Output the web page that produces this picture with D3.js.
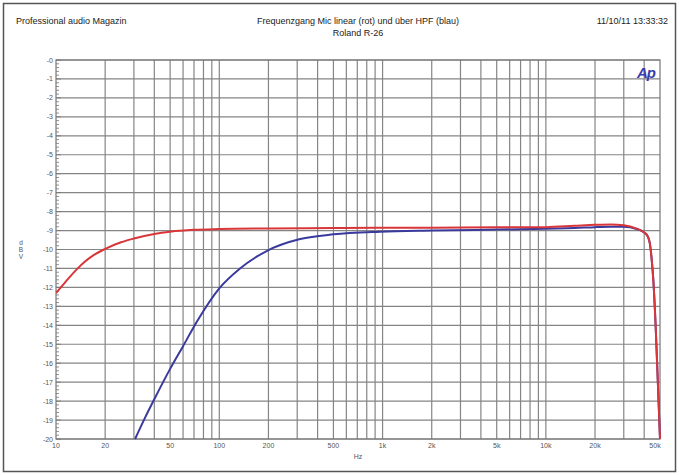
<!DOCTYPE html>
<html>
<head>
<meta charset="utf-8">
<script src="https://cdn.jsdelivr.net/npm/d3@7.9.0/dist/d3.min.js"></script>
<style>
  body { margin: 0; background: #fff; }
  svg { display: block; font-family: Arial, "Liberation Sans", sans-serif; }
</style>
</head>
<body>
<svg id="chart" width="679" height="475"></svg>
<script>
// Frequency response, linear (red) and via HPF (blue)
const freqLinear = [10, 11, 12, 13.4, 15, 17, 20, 25, 30, 40, 50, 70, 100, 200, 500, 1000, 2000, 5000, 10000, 15000, 20000, 25000, 30000, 36000, 40000, 42000, 43300, 44500, 45500, 47000, 48500, 50000];
const dbLinear   = [-12.3, -11.88, -11.5, -11.05, -10.65, -10.3, -9.97, -9.62, -9.42, -9.18, -9.06, -8.96, -8.92, -8.89, -8.87, -8.85, -8.85, -8.83, -8.82, -8.75, -8.7, -8.68, -8.72, -8.9, -9.1, -9.3, -9.66, -10.55, -11.6, -14.0, -17.0, -20.0];

const freqHpf = [30.5, 35, 40, 50, 60, 73, 100, 134, 195, 313, 500, 967, 2030, 5000, 10000, 15000, 20000, 25000, 30000, 36000, 40000, 42000, 43300, 44500, 45500, 47000, 48500, 50000];
const dbHpf   = [-20.0, -18.9, -17.9, -16.3, -15.1, -13.8, -12.05, -11.0, -10.08, -9.45, -9.2, -9.06, -9.0, -8.95, -8.9, -8.87, -8.82, -8.8, -8.8, -8.92, -9.1, -9.3, -9.66, -10.55, -11.6, -14.0, -17.0, -20.0];

const yTicks = d3.range(0, -21, -1);
const xLabelTicks = [10, 20, 50, 100, 200, 500, 1000, 2000, 5000, 10000, 20000, 50000];
const xLabels = ['10', '20', '50', '100', '200', '500', '1k', '2k', '5k', '10k', '20k', '50k'];
const yUnit = ['d', 'B', 'V'];

const svg = d3.select('#chart');
const W = 679, H = 475;
const mLeft = 56, mRight = 660, mTop = 60, mBottom = 439;

const x = d3.scaleLog().domain([10, 50000]).range([mLeft, mRight]);
const y = d3.scaleLinear().domain([0, -20]).range([mTop, mBottom]);

// outer frame
svg.append('rect')
  .attr('x', 3.5).attr('y', 3.5)
  .attr('width', W - 7).attr('height', H - 7)
  .attr('fill', '#fff').attr('stroke', '#555').attr('stroke-width', 1.5);

// header texts
svg.append('text').attr('x', 16).attr('y', 24)
  .attr('font-size', 9).attr('fill', '#222')
  .text('Professional audio Magazin');
svg.append('text').attr('x', 358).attr('y', 24)
  .attr('font-size', 9).attr('fill', '#222').attr('text-anchor', 'middle')
  .text('Frequenzgang Mic linear (rot) und über HPF (blau)');
svg.append('text').attr('x', 358).attr('y', 36)
  .attr('font-size', 9).attr('fill', '#222').attr('text-anchor', 'middle')
  .text('Roland R-26');
svg.append('text').attr('x', 668).attr('y', 24)
  .attr('font-size', 9).attr('fill', '#222').attr('text-anchor', 'end')
  .text('11/10/11 13:33:32');

// grid: vertical lines at 1..9 per decade
const gridFreqs = [];
for (let dec = 10; dec <= 10000; dec *= 10) {
  for (let m = 1; m <= 9; m++) {
    const f = dec * m;
    if (f > 10 && f < 50000) gridFreqs.push(f);
  }
}
const grid = svg.append('g').attr('stroke', '#858585').attr('stroke-width', 1.2);
grid.selectAll('line.v').data(gridFreqs).join('line')
  .attr('class', 'v')
  .attr('x1', d => x(d)).attr('x2', d => x(d))
  .attr('y1', mTop).attr('y2', mBottom);
grid.selectAll('line.h').data(yTicks).join('line')
  .attr('class', 'h')
  .attr('x1', mLeft).attr('x2', mRight)
  .attr('y1', d => y(d)).attr('y2', d => y(d));

// plot frame
svg.append('rect')
  .attr('x', mLeft).attr('y', mTop)
  .attr('width', mRight - mLeft).attr('height', mBottom - mTop)
  .attr('fill', 'none').attr('stroke', '#777').attr('stroke-width', 1.2);

// y minor ticks (0.2 dB)
const minor = d3.range(0, -20.01, -0.2);
svg.append('g').selectAll('line').data(minor).join('line')
  .attr('x1', mLeft).attr('x2', d => mLeft + (Math.abs(d - Math.round(d)) < 0.01 ? 5 : 3))
  .attr('y1', d => y(d)).attr('y2', d => y(d))
  .attr('stroke', '#777').attr('stroke-width', 0.8);

// y labels
svg.append('g').selectAll('text').data(yTicks).join('text')
  .attr('x', mLeft - 3).attr('y', d => y(d) + 2.5)
  .attr('text-anchor', 'end').attr('font-size', 7).attr('fill', '#555')
  .text(d => d === 0 ? '-0' : d);

// x labels
svg.append('g').selectAll('text').data(xLabelTicks).join('text')
  .attr('x', (d, i) => x(d) - (i === xLabelTicks.length - 1 ? 5 : 0)).attr('y', mBottom + 9)
  .attr('text-anchor', 'middle').attr('font-size', 7).attr('fill', '#555')
  .text((d, i) => xLabels[i]);

// axis titles
svg.append('text').attr('x', 358).attr('y', 459)
  .attr('font-size', 7).attr('fill', '#555').attr('text-anchor', 'middle').text('Hz');
svg.append('g').selectAll('text').data(yUnit).join('text')
  .attr('x', 21).attr('y', (d, i) => 245 + i * 7)
  .attr('font-size', 6.5).attr('fill', '#555').attr('text-anchor', 'middle')
  .text(d => d);

// Ap logo
svg.append('text').attr('x', 637).attr('y', 78)
  .attr('font-size', 15).attr('font-weight', 'bold').attr('font-style', 'italic')
  .attr('fill', '#3c3ca8').attr('letter-spacing', -1).text('Ap');

// curves
const line = d3.line()
  .x(d => x(d[0])).y(d => y(d[1]))
  .curve(d3.curveMonotoneX);

svg.append('clipPath').attr('id', 'plotclip')
  .append('rect').attr('x', mLeft).attr('y', mTop - 2)
  .attr('width', mRight - mLeft + 2).attr('height', mBottom - mTop + 3);

svg.append('path')
  .datum(d3.zip(freqHpf, dbHpf))
  .attr('d', line)
  .attr('clip-path', 'url(#plotclip)')
  .attr('fill', 'none').attr('stroke', '#3a3a9e').attr('stroke-width', 2);

svg.append('path')
  .datum(d3.zip(freqLinear, dbLinear))
  .attr('d', line)
  .attr('clip-path', 'url(#plotclip)')
  .attr('fill', 'none').attr('stroke', '#d9363a').attr('stroke-width', 2);
</script>
</body>
</html>
